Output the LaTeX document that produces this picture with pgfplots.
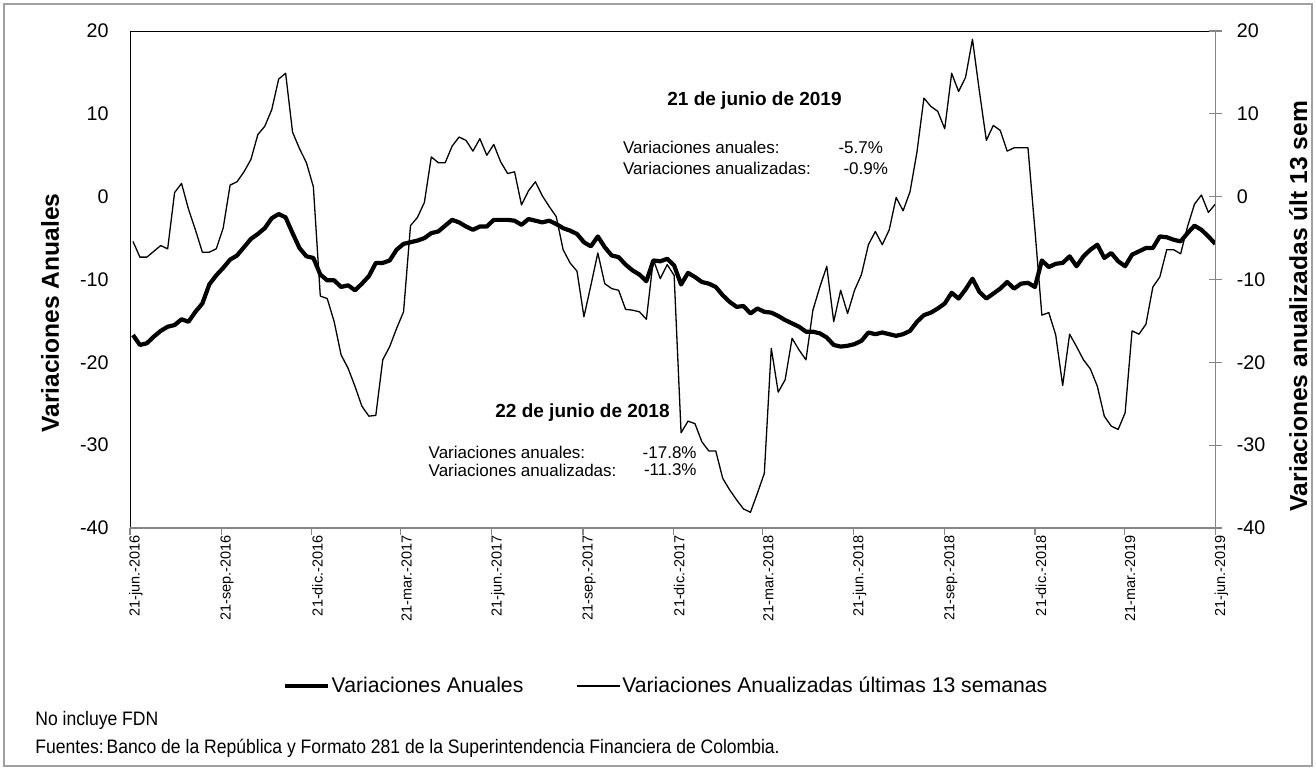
\documentclass[border=0pt]{standalone}
\usepackage{fontspec}
\setmainfont{Liberation Sans}
\newfontfamily\narrowfont[FakeStretch=0.9]{Liberation Sans}
\usepackage{pgfplots}
\usepackage{pgfplotstable}
\pgfplotsset{compat=1.18}
\definecolor{axgrey}{RGB}{134,134,134}
\definecolor{bordergrey}{RGB}{160,160,160}

\pgfplotstableread{
x anual anualiz
3 -16.7 -5.4
10 -17.9 -7.3
17 -17.7 -7.3
24 -16.9 -6.6
31 -16.2 -5.9
38 -15.7 -6.3
45 -15.5 0.5
52 -14.8 1.6
59 -15.1 -1.5
66 -13.9 -4.0
73 -12.9 -6.7
80 -10.6 -6.7
87 -9.5 -6.3
94 -8.6 -3.8
101 -7.6 1.4
108 -7.1 1.8
115 -6.1 3.0
122 -5.1 4.5
129 -4.5 7.5
136 -3.8 8.5
143 -2.6 10.5
150 -2.1 14.2
157 -2.5 14.9
164 -4.4 7.8
171 -6.2 5.8
178 -7.2 4.1
185 -7.4 1.2
192 -9.4 -12.0
199 -10.1 -12.3
206 -10.1 -15.1
213 -10.9 -19.1
220 -10.7 -20.7
227 -11.3 -22.9
234 -10.5 -25.3
241 -9.6 -26.5
248 -8.0 -26.4
255 -8.0 -19.7
262 -7.7 -18.1
269 -6.4 -15.9
276 -5.7 -13.9
283 -5.5 -3.5
290 -5.3 -2.5
297 -5.0 -0.7
304 -4.4 4.8
311 -4.2 4.1
318 -3.5 4.1
325 -2.8 6.1
332 -3.1 7.2
339 -3.6 6.8
346 -4.0 5.5
353 -3.6 7.0
360 -3.6 5.0
367 -2.8 6.3
374 -2.8 4.2
381 -2.8 2.8
388 -2.9 3.0
395 -3.4 -1.0
402 -2.7 0.7
409 -2.9 1.8
416 -3.1 0.1
423 -2.9 -1.2
430 -3.3 -2.4
437 -3.8 -6.4
444 -4.1 -8.0
451 -4.5 -9.0
458 -5.5 -14.5
465 -6.0 -10.7
472 -4.8 -6.8
479 -6.1 -10.5
486 -7.1 -11.1
493 -7.3 -11.3
500 -8.2 -13.6
507 -8.9 -13.7
514 -9.4 -13.9
521 -10.2 -14.8
528 -7.7 -7.6
535 -7.8 -9.9
542 -7.5 -8.2
549 -8.3 -9.5
556 -10.6 -28.5
563 -9.2 -27.1
570 -9.7 -27.4
577 -10.3 -29.6
584 -10.5 -30.7
591 -10.9 -30.7
598 -11.9 -34.0
605 -12.7 -35.4
612 -13.3 -36.6
619 -13.2 -37.7
626 -14.1 -38.1
633 -13.5 -35.8
640 -13.9 -33.4
647 -14.0 -18.3
654 -14.4 -23.6
661 -14.9 -22.1
668 -15.3 -17.1
675 -15.7 -18.5
682 -16.3 -19.7
689 -16.3 -13.7
696 -16.5 -10.9
703 -17.0 -8.4
710 -17.9 -15.1
717 -18.1 -11.3
724 -18.0 -14.1
731 -17.8 -11.3
738 -17.4 -9.4
745 -16.4 -5.8
752 -16.6 -4.2
759 -16.4 -5.8
766 -16.6 -4.0
773 -16.8 -0.1
780 -16.6 -1.7
787 -16.2 0.6
794 -15.1 5.4
801 -14.3 11.9
808 -14.0 10.9
815 -13.5 10.3
822 -12.9 8.2
829 -11.6 14.9
836 -12.3 12.7
843 -11.2 14.4
850 -9.9 19.0
857 -11.5 12.7
864 -12.3 6.8
871 -11.7 8.6
878 -11.1 8.0
885 -10.3 5.5
892 -11.1 5.9
899 -10.5 5.9
906 -10.4 5.9
913 -10.9 -4.0
920 -7.7 -14.3
927 -8.5 -14.0
934 -8.1 -16.7
941 -8.0 -22.8
948 -7.2 -16.6
955 -8.4 -18.1
962 -7.2 -19.7
969 -6.4 -20.8
976 -5.8 -22.9
983 -7.4 -26.5
990 -6.8 -27.7
997 -7.8 -28.1
1004 -8.4 -26.1
1011 -7.0 -16.2
1018 -6.6 -16.6
1025 -6.2 -15.4
1032 -6.2 -10.9
1039 -4.8 -9.7
1046 -4.9 -6.4
1053 -5.2 -6.4
1060 -5.4 -6.9
1067 -4.4 -3.6
1074 -3.5 -0.9
1081 -4.0 0.2
1088 -4.8 -1.9
1095 -5.7 -0.9
}\datatable

\begin{document}
\begin{tikzpicture}
\begin{axis}[
  at={(65pt,-264pt)}, anchor=south west,
  scale only axis, width=542.65pt, height=248.5pt,
  xmin=0, xmax=1095, ymin=-40, ymax=20,
  axis line style={draw=none},
  xtick={0,92,183,273,365,457,548,638,730,822,913,1003,1095},
  xticklabels={21-jun.-2016,21-sep.-2016,21-dic.-2016,21-mar.-2017,21-jun.-2017,21-sep.-2017,21-dic.-2017,21-mar.-2018,21-jun.-2018,21-sep.-2018,21-dic.-2018,21-mar.-2019,21-jun.-2019},
  xtick pos=bottom, xtick align=outside,
  major tick length=3.5pt,
  xtick style={axgrey, line width=0.6pt},
  ytick={-40,-30,...,20}, ytick pos=left,
  ytick style={draw=none},
  /pgf/number format/assume math mode=true,
  yticklabel style={font=\fontsize{9.85}{11}\selectfont, anchor=east, inner sep=0pt, xshift=-10.5pt},
  xticklabel style={font=\fontsize{7.25}{8}\selectfont, rotate=90, anchor=east, inner sep=0pt, yshift=-3pt},
  ylabel={Variaciones Anuales},
  ylabel style={font=\fontsize{12.3}{14}\selectfont\bfseries, at={(axis description cs:-0.0737,0.4326)}, anchor=center},
  legend columns=2,
  legend style={at={(axis description cs:0.1407,-0.318)}, anchor=west, draw=none, fill=none, inner sep=0pt,
    font=\fontsize{10.6}{12}\selectfont, nodes={inner sep=0.6pt},
    /tikz/every even column/.append style={column sep=26pt}},
  legend image code/.code={\draw[#1] (0pt,0pt) -- (21.6pt,0pt);},
]
\addplot[black, line width=2.1pt, line join=round] table[x=x, y=anual] {\datatable};
\addlegendentry{Variaciones Anuales}
\addplot[black, line width=0.65pt, line join=round] table[x=x, y=anualiz] {\datatable};
\addlegendentry{Variaciones Anualizadas últimas 13 semanas}
\draw[black, line width=0.6pt] (rel axis cs:0,0) -- (rel axis cs:0,1) -- (rel axis cs:1,1);
\draw[axgrey, line width=0.8pt] (rel axis cs:0,0) -- (rel axis cs:1,0);
\end{axis}
\begin{axis}[
  at={(65pt,-264pt)}, anchor=south west,
  scale only axis, width=542.65pt, height=248.5pt,
  xmin=0, xmax=1095, ymin=-40, ymax=20,
  axis x line=none, axis y line*=right,
  y axis line style={axgrey, line width=0.8pt, -},
  ytick={-40,-30,...,20},
  ytick align=center, major tick length=6.2pt,
  ytick style={axgrey, line width=0.6pt},
  /pgf/number format/assume math mode=true,
  yticklabel style={font=\fontsize{9.85}{11}\selectfont, anchor=west, inner sep=0pt, xshift=7.5pt},
  ylabel={Variaciones anualizadas últ 13 sem},
  ylabel style={font=\fontsize{12.3}{14}\selectfont\bfseries, at={(axis description cs:1.0765,0.4467)}, anchor=center},
]
\addplot[draw=none] coordinates {(0,0)};
\end{axis}
\begin{scope}[x=0.5pt,y=-0.5pt]
\draw[bordergrey, line width=0.7pt] (4,4) rectangle (1312,766);
\node[font=\fontsize{9.5}{11}\selectfont\bfseries, inner sep=0pt] at (754.5,101) {21 de junio de 2019};
\node[font=\fontsize{8.5}{10}\selectfont, inner sep=0pt, anchor=west] at (622.7,147.7) {Variaciones anuales:};
\node[font=\fontsize{8.5}{10}\selectfont, inner sep=0pt, anchor=east] at (883.3,147.7) {-5.7\%};
\node[font=\fontsize{8.5}{10}\selectfont, inner sep=0pt, anchor=west] at (622.7,168.3) {Variaciones anualizadas:};
\node[font=\fontsize{8.5}{10}\selectfont, inner sep=0pt, anchor=east] at (888.3,168.3) {-0.9\%};
\node[font=\fontsize{9.5}{11}\selectfont\bfseries, inner sep=0pt] at (582.5,413) {22 de junio de 2018};
\node[font=\fontsize{8.5}{10}\selectfont, inner sep=0pt, anchor=west] at (428.3,452.7) {Variaciones anuales:};
\node[font=\fontsize{8.5}{10}\selectfont, inner sep=0pt, anchor=east] at (697,452.7) {-17.8\%};
\node[font=\fontsize{8.5}{10}\selectfont, inner sep=0pt, anchor=west] at (428.3,470) {Variaciones anualizadas:};
\node[font=\fontsize{8.5}{10}\selectfont, inner sep=0pt, anchor=east] at (697,470) {-11.3\%};
\node[font=\narrowfont\fontsize{9.75}{11}\selectfont, inner sep=0pt, anchor=west] at (35,720) {No incluye FDN};
\node[font=\narrowfont\fontsize{9.75}{11}\selectfont, inner sep=0pt, anchor=west] at (35,748) {Fuentes:\hspace{0.15em}Banco de la República y Formato 281 de la Superintendencia Financiera de Colombia.};
\pgfresetboundingbox
\path[use as bounding box] (0,0) rectangle (1316,770);
\end{scope}
\end{tikzpicture}
\end{document}
